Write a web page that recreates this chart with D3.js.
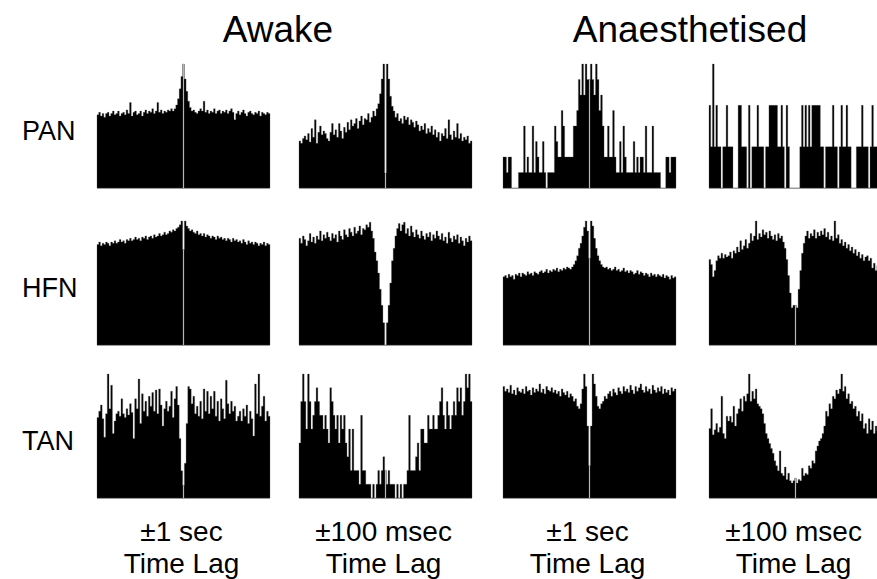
<!DOCTYPE html>
<html>
<head>
<meta charset="utf-8">
<script src="https://cdn.jsdelivr.net/npm/d3@7"></script>
<style>
  body { margin: 0; background: #fff; }
  svg { display: block; font-family: "Liberation Sans", Arial, sans-serif; }
</style>
</head>
<body>
<svg></svg>
<script>
// labels
const groupLabels = ['Awake', 'Anaesthetised'];
const rowLabels = ['PAN', 'HFN', 'TAN'];
const lagLabels = ['\u00b11 sec', '\u00b1100 msec', '\u00b11 sec', '\u00b1100 msec'];

// correlogram bins (101 bins, centre bin = zero lag)
// continuous panels in % of full scale, sparse panels in spike counts
const panAwake1s = [
  59,61,58,60,57,60,61,58,60,62, 59,60,62,58,60,61,59,63,60,69,
  58,61,62,59,60,62,58,61,63,60, 62,61,64,60,62,69,61,63,60,62,
  61,63,62,64,62,64,67,72,80,90, 100,
  88,78,70,65,62,63,61,60,62,64, 62,70,61,63,60,62,61,64,60,62,
  63,60,62,61,63,60,62,64,61,55, 60,62,59,61,63,60,58,61,62,60,
  59,61,60,62,58,61,60,59,61,60];
const panAwake100ms = [
  38,36,40,42,39,44,37,48,41,55, 36,45,50,43,46,44,40,38,45,52,
  43,47,41,52,46,40,49,45,53,47, 55,50,52,56,48,54,58,51,56,55,
  60,53,57,62,58,64,68,76,88,100, 12,
  100,88,74,66,62,57,60,54,56,52, 58,55,57,51,55,53,49,54,51,46,
  50,47,52,44,48,45,50,43,47,41, 45,38,44,42,48,40,55,43,39,46,
  41,52,40,44,38,41,39,42,36,38];
const panAnaes1s = [
  2,2,1,2,2,0,0,0,0,1, 1,1,4,1,2,1,1,4,1,3,
  2,1,1,3,1,0,1,1,1,1, 4,3,2,2,5,4,2,2,2,2,
  2,4,4,5,7,6,8,6,8,7, 7,
  8,7,6,8,7,5,6,4,2,2, 4,2,2,5,2,1,1,3,1,4,
  2,1,1,1,1,3,1,2,1,2, 2,1,4,1,1,1,4,1,1,1,
  1,0,0,0,2,2,1,2,2,2];
const panAnaes100ms = [
  2,1,3,1,2,1,1,0,1,1, 2,1,1,1,0,0,0,2,2,1,
  1,1,0,2,0,1,1,1,2,1, 1,1,0,1,1,2,2,2,2,2,
  1,1,2,1,0,2,1,0,0,0, 0,
  0,0,1,2,1,2,1,2,1,2, 2,2,2,2,1,1,0,1,1,1,
  1,2,1,1,0,1,2,1,1,2, 1,1,0,0,0,1,1,1,2,1,
  1,1,0,1,2,1,1,1,0,1];

const hfnAwake1s = [
  81,83,80,82,81,83,82,80,83,82, 84,82,83,85,83,84,82,85,84,86,
  84,85,87,85,86,84,87,86,88,85, 87,88,86,89,87,88,90,88,89,91,
  89,90,92,91,93,92,94,95,97,100, 77,
  100,96,94,92,93,91,90,92,89,90, 88,90,87,89,88,86,88,87,85,88,
  86,87,85,86,84,86,85,83,86,84, 85,83,84,82,85,83,81,84,82,83,
  81,83,82,80,82,81,83,80,82,81];
const hfnAwake100ms = [
  86,82,88,85,80,84,90,83,87,82, 88,85,92,84,89,86,91,87,84,90,
  86,89,83,92,88,85,93,89,87,94, 91,88,95,90,92,96,89,94,93,97,
  95,99,92,86,75,68,58,45,32,18, 0,
  18,32,50,68,78,88,94,98,92,97, 99,90,94,88,96,91,87,93,89,86,
  92,88,85,90,87,91,84,89,86,92, 88,85,90,84,87,82,91,86,83,88,
  85,89,82,87,84,80,86,83,88,84];
const hfnAnaes1s = [
  55,56,54,57,55,56,53,57,56,58, 55,58,57,56,59,57,58,56,59,58,
  57,59,60,58,59,61,58,60,59,61, 60,62,59,61,60,62,61,63,62,61,
  63,65,68,72,78,82,88,95,100,92, 70,
  100,96,86,78,72,68,65,63,62,63, 61,62,60,61,63,60,61,59,60,62,
  59,60,58,60,59,57,58,60,57,59, 58,56,58,57,55,58,56,57,55,57,
  56,55,57,54,56,55,53,56,54,55];
const hfnAnaes100ms = [
  69,65,55,60,68,72,70,74,70,73, 71,72,75,70,76,74,79,75,84,77,
  80,85,78,82,90,84,88,100,85,90, 87,93,89,91,86,92,88,85,89,84,
  90,86,88,83,78,69,56,42,30,32, 32,
  30,45,60,74,82,88,92,86,90,88, 93,86,91,88,92,89,94,87,91,85,
  88,84,100,86,89,82,85,80,83,78, 81,76,79,74,77,72,75,70,73,68,
  71,72,68,70,62,66,60,64,62,66];

const tanAwake1s = [
  65,70,75,64,49,68,100,72,91,52, 62,68,70,66,80,68,65,72,67,76,
  69,48,80,72,96,60,84,70,78,66, 82,74,85,70,87,68,88,75,58,72,
  78,70,74,86,65,80,90,75,48,22, 10,
  28,60,90,88,76,82,68,74,66,78, 64,88,70,86,68,82,72,86,66,78,
  62,80,72,64,95,76,68,78,70,74, 62,66,70,62,72,66,75,60,70,64,
  50,92,68,100,66,74,82,62,70,66];
const tanAwake100ms = [
  4,7,9,7,5,9,7,5,6,7, 8,7,6,6,5,6,5,4,8,7,
  6,5,6,4,6,5,6,4,3,5, 2,5,2,2,2,1,6,2,2,1,
  1,1,0,1,0,1,2,1,2,3, 2,
  1,2,1,1,1,0,1,0,1,0, 1,1,2,6,2,2,2,3,4,2,
  5,5,4,4,6,5,5,6,5,5, 6,7,8,6,5,7,6,5,6,7,
  6,8,7,8,6,7,9,8,9,7];
const tanAnaes1s = [
  90,86,88,85,91,84,87,83,89,86, 85,88,84,90,86,87,83,89,85,88,
  86,92,85,88,84,90,87,86,89,85, 87,84,86,82,88,85,83,86,81,84,
  82,78,80,74,72,76,88,100,90,58, 26,
  58,100,92,82,74,72,76,78,82,80, 84,86,82,88,85,83,89,86,84,90,
  86,88,85,91,87,84,90,86,89,92, 87,85,90,86,88,84,91,87,85,89,
  86,90,84,88,85,87,83,89,86,88];
const tanAnaes100ms = [
  56,72,51,55,60,53,57,82,52,48, 66,62,66,61,74,58,68,72,80,70,
  82,78,84,100,78,86,80,88,76,74, 72,68,60,52,48,44,40,36,30,26,
  22,38,20,18,25,15,20,14,12,14, 16,
  12,15,14,24,18,20,19,26,24,30, 28,38,42,46,48,52,58,70,66,76,
  72,82,80,87,84,88,100,86,90,80, 84,76,78,72,74,66,70,62,68,56,
  60,52,64,55,62,52,58,54,56,52];

// rows x columns, with the full-scale value of each panel
const panelData = [
  [panAwake1s, panAwake100ms, panAnaes1s, panAnaes100ms],
  [hfnAwake1s, hfnAwake100ms, hfnAnaes1s, hfnAnaes100ms],
  [tanAwake1s, tanAwake100ms, tanAnaes1s, tanAnaes100ms]
];
const panelMax = [
  [100, 100, 8, 3],
  [100, 100, 100, 100],
  [100, 9, 100, 100]
];

const size = {w: 877, h: 579};
const panel = {w: 173, h: 124};
const colX = [97, 299, 503, 709];
const rowY = [64, 221, 374];

const svg = d3.select('svg')
    .attr('width', size.w)
    .attr('height', size.h);

svg.append('rect')
    .attr('width', size.w)
    .attr('height', size.h)
    .attr('fill', '#fff');

// group titles
svg.selectAll('text.group')
    .data(groupLabels)
    .enter()
    .append('text')
    .classed('group', true)
    .attr('x', (d, i) => i === 0 ? 278 : 690)
    .attr('y', 42)
    .attr('text-anchor', 'middle')
    .attr('font-size', 37)
    .text(d => d);

// row labels
svg.selectAll('text.row')
    .data(rowLabels)
    .enter()
    .append('text')
    .classed('row', true)
    .attr('x', 22)
    .attr('y', (d, i) => rowY[i] + 76)
    .attr('font-size', 27)
    .text(d => d);

// lag labels under each column
const lagG = svg.selectAll('g.lag')
    .data(lagLabels)
    .enter()
    .append('g')
    .classed('lag', true)
    .attr('transform', (d, i) => `translate(${colX[i] + panel.w / 2 - 2},0)`);

lagG.append('text')
    .attr('y', 541)
    .attr('text-anchor', 'middle')
    .attr('font-size', 28)
    .text(d => d);

lagG.append('text')
    .attr('y', 573)
    .attr('text-anchor', 'middle')
    .attr('font-size', 28)
    .text('Time Lag');

// panels
panelData.forEach((row, r) => {
    row.forEach((values, c) => {
        let g = svg.append('g')
            .attr('transform', `translate(${colX[c]},${rowY[r]})`);
        drawPanel(g, values, panelMax[r][c]);
    });
});

function drawPanel(g, values, yMax) {
    let n = values.length;
    let x = d3.scaleLinear()
        .domain([0, n])
        .range([0, panel.w]);

    let y = d3.scaleLinear()
        .domain([0, yMax])
        .range([panel.h, 0]);

    let mid = Math.floor(n / 2);

    // histogram as one stepped area, so neighbouring bins leave no seams
    let steps = values.map((d, i) => [i, d]).concat([[n, values[n - 1]]]);
    let area = d3.area()
        .curve(d3.curveStepAfter)
        .x(d => x(d[0]))
        .y0(panel.h)
        .y1(d => y(d[1]));

    g.append('path')
        .datum(steps)
        .attr('d', area)
        .attr('fill', '#000')
        .attr('stroke', '#555')
        .attr('stroke-width', 0.3);

    // zero-lag bin, drawn as a thin light bar
    g.append('rect')
        .attr('x', x(mid + 0.5) - 0.6)
        .attr('width', 1.2)
        .attr('y', y(values[mid]))
        .attr('height', panel.h - y(values[mid]))
        .attr('fill', '#b5b5b5');

    // baseline
    g.append('line')
        .attr('x1', 0)
        .attr('x2', panel.w)
        .attr('y1', panel.h + 0.5)
        .attr('y2', panel.h + 0.5)
        .attr('stroke', '#999')
        .attr('stroke-width', 1);
}
</script>
</body>
</html>
